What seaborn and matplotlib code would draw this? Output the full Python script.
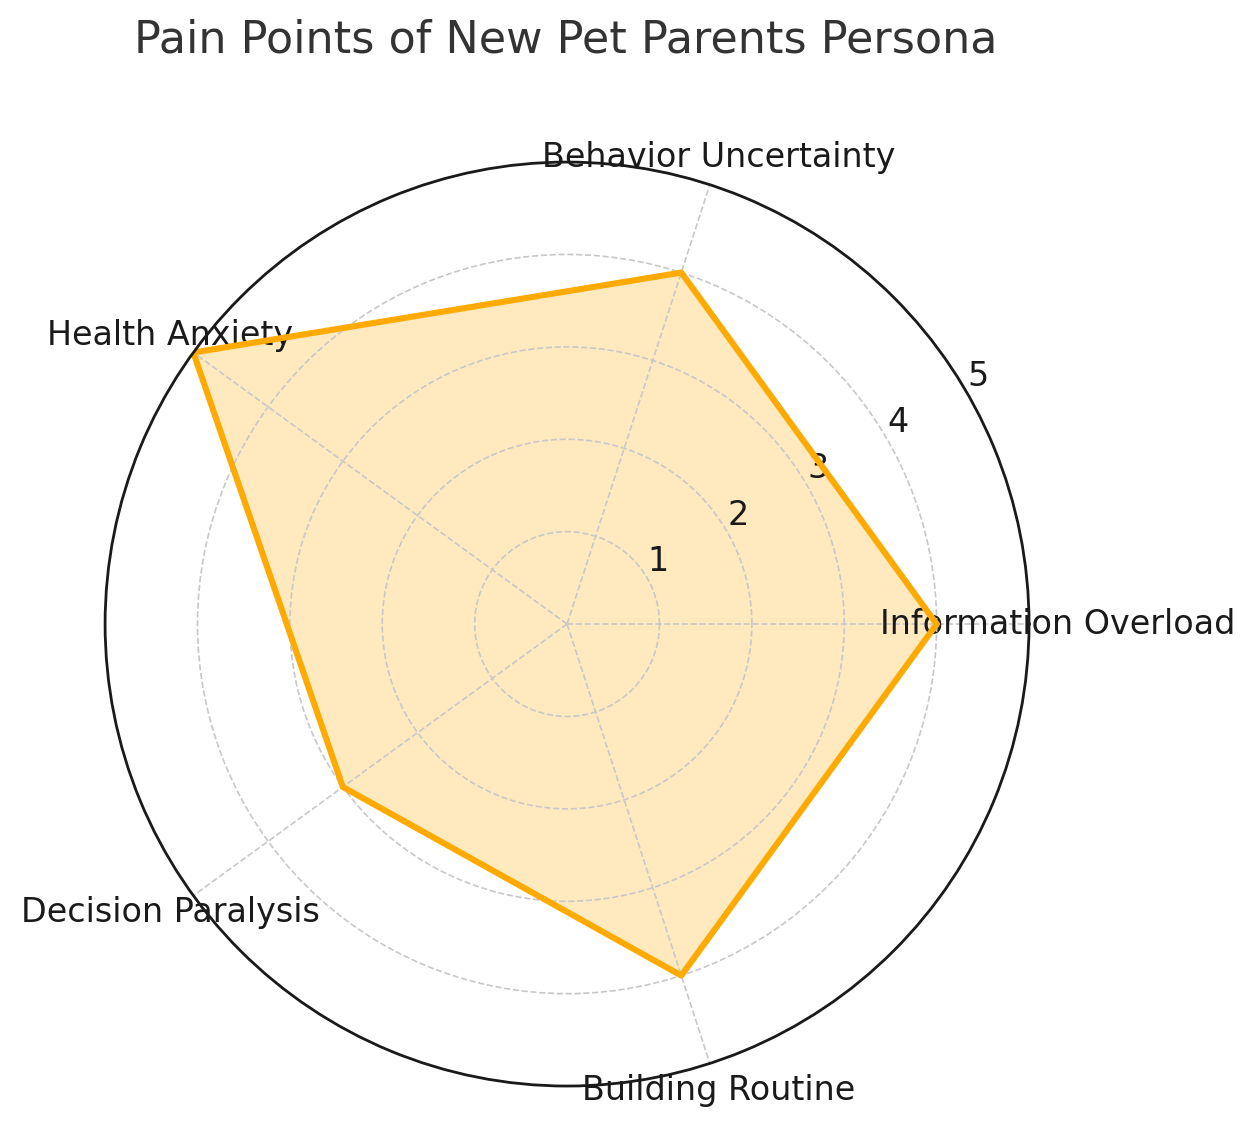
import numpy as np
import matplotlib
matplotlib.use("Agg")
import matplotlib.pyplot as plt
import seaborn as sns

sns.set_theme(style="whitegrid")
plt.rcParams['font.family'] = ['DejaVu Sans']

categories = ["Information Overload", "Behavior Uncertainty", "Health Anxiety",
              "Decision Paralysis", "Building Routine"]
values = [4, 4, 5, 3, 4]
r_ticks = [1, 2, 3, 4, 5]
r_tick_labels = ["1", "2", "3", "4", "5"]
title = "Pain Points of New Pet Parents Persona"

n = len(categories)
angles = np.linspace(0, 2 * np.pi, n, endpoint=False).tolist()
angles_closed = angles + [angles[0]]
values_closed = values + [values[0]]

fig = plt.figure(figsize=(6.275, 5.64), dpi=200)
ax = fig.add_axes([0.0837, 0.0372, 0.7363, 0.8191], polar=True)
ax.set_facecolor("white")
ax.set_axisbelow("line")

ax.fill(angles_closed, values_closed, color="#FFAA00", alpha=0.25, zorder=1)
ax.plot(angles_closed, values_closed, color="#FFAA00", linewidth=2.2, zorder=2)

ax.set_xticks(angles)
ax.set_xticklabels(categories, fontsize=12, color="#1a1a1a")
ax.tick_params(axis="x", pad=-2.6)
ax.set_ylim(0, 5)
ax.set_yticks(r_ticks)
ax.set_yticklabels(r_tick_labels, fontsize=12, color="#1a1a1a")
ax.set_rlabel_position(30)
ax.grid(True, color="#c8c8c8", linestyle="--", linewidth=0.6)
ax.spines["polar"].set_color("#1a1a1a")
ax.spines["polar"].set_linewidth(1.0)

fig.text(0.451, 0.9645, title, ha="center", va="center", fontsize=16, color="#333333")

fig.savefig("out.png", dpi=200, facecolor="white")
